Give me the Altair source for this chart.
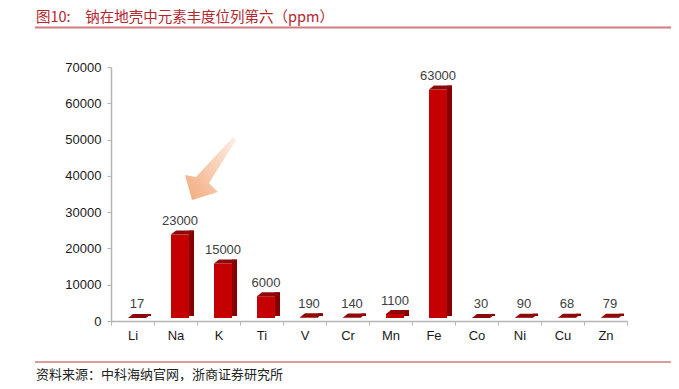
import altair as alt
import pandas as pd

ELEMENTS = ["Li", "Na", "K", "Ti", "V", "Cr", "Mn", "Fe", "Co", "Ni", "Cu", "Zn"]
VALUES = [17, 23000, 15000, 6000, 190, 140, 1100, 63000, 30, 90, 68, 79]
Y_TICKS = [0, 10000, 20000, 30000, 40000, 50000, 60000, 70000]

TITLE = "图10:\u3000钠在地壳中元素丰度位列第六（ppm）"
SOURCE = "资料来源：中科海纳官网，浙商证券研究所"

# annotation arrow anchor (category, value)
ARROW_AT = ["Na"]
ARROW_V = [42000]

W, H = 516, 254
FONT = "Liberation Sans"
CJK = "Noto Sans CJK SC"

df = pd.DataFrame({"el": ELEMENTS, "v": VALUES})

x_enc = alt.X(
    "el:N",
    sort=ELEMENTS,
    scale=alt.Scale(paddingInner=0, paddingOuter=0),
    axis=alt.Axis(
        title=None, labelAngle=0, tickBand="extent", tickSize=4,
        domainColor="#b5b5b5", tickColor="#b5b5b5", domainWidth=1.5, tickWidth=1,
        labelFont=FONT, labelFontSize=13, labelColor="#1a1a1a", labelPadding=4,
    ),
)
y_scale = alt.Scale(domain=[0, 70000], nice=False)
y_enc = alt.Y(
    "v:Q",
    scale=y_scale,
    axis=alt.Axis(
        title=None, values=Y_TICKS, format="d", grid=False, tickSize=4,
        labelOverlap=False, labelFlush=False,
        domainColor="#b5b5b5", tickColor="#b5b5b5", domainWidth=1.5, tickWidth=1,
        labelFont=FONT, labelFontSize=13, labelColor="#1a1a1a", labelPadding=6,
    ),
)

base = alt.Chart(df)

side = base.mark_bar(size=5, xOffset=16, yOffset=-7, y2Offset=-5, color="#860000").encode(
    x=x_enc, y=y_enc, y2=alt.datum(0)
)
front = base.mark_bar(size=18, xOffset=4.5, yOffset=-3, y2Offset=-3, color="#c40000").encode(
    x=x_enc, y=y_enc, y2=alt.datum(0)
)
TOP_SHAPE = "M -0.45 0 L 0.45 0 L 0.7 -0.2 L -0.2 -0.2 Z"
top = base.mark_point(
    shape=TOP_SHAPE, size=1600, filled=True, color="#8e0a0a", opacity=1,
    strokeWidth=0, xOffset=4.5, yOffset=-3,
).encode(x=x_enc, y=y_enc)

labels = base.mark_text(
    font=FONT, fontSize=13, color="#404040", xOffset=4.5, dy=-12.5, baseline="alphabetic"
).encode(x=x_enc, y=y_enc, text=alt.Text("v:Q", format="d"))

ARROW_SHAPE = ("M 0.5625 -0.7875 L 0.6375 -0.7125 L -0.0375 0.3625 L 0.1875 0.5875 "
               "L -0.4625 0.7875 L -0.6375 0.1625 L -0.3625 0.2125 Z")
arrow = alt.Chart(pd.DataFrame({"el": ARROW_AT, "v": ARROW_V})).mark_point(
    shape=ARROW_SHAPE, size=6400, filled=True, opacity=1, strokeWidth=0, xOffset=35,
    fill=alt.Gradient(
        gradient="linear", x1=0, y1=1, x2=1, y2=0,
        stops=[alt.GradientStop(color="#f2aa7c", offset=0),
               alt.GradientStop(color="#fdeee4", offset=1)],
    ),
).encode(x=x_enc, y=y_enc)

title = alt.Chart(pd.DataFrame({"t": [TITLE]})).mark_text(
    font=CJK, fontSize=14.5, color="#b3262e", align="left", baseline="middle"
).encode(x=alt.value(-75), y=alt.value(-49.5), text="t:N")
source = alt.Chart(pd.DataFrame({"t": [SOURCE]})).mark_text(
    font=CJK, fontSize=13, color="#222222", align="left", baseline="middle"
).encode(x=alt.value(-75), y=alt.value(307.5), text="t:N")

top_rule = alt.Chart(pd.DataFrame({"a": [0]})).mark_rule(color="#d27c80", strokeWidth=2).encode(
    x=alt.value(-76), x2=alt.value(560), y=alt.value(-39.5)
)
bottom_rule = alt.Chart(pd.DataFrame({"a": [0]})).mark_rule(color="#d27c80", strokeWidth=1.5).encode(
    x=alt.value(-76), x2=alt.value(560), y=alt.value(295)
)

chart = alt.layer(side, front, top, labels, arrow, title, source, top_rule, bottom_rule).properties(
    width=W, height=H,
    autosize=alt.AutoSizeParams(type="none"),
    padding={"left": 103, "top": 59, "right": 44, "bottom": 60},
    background="white",
).configure_view(stroke=None)

chart.save("out.html", embed_options={"renderer": "svg", "actions": False})
